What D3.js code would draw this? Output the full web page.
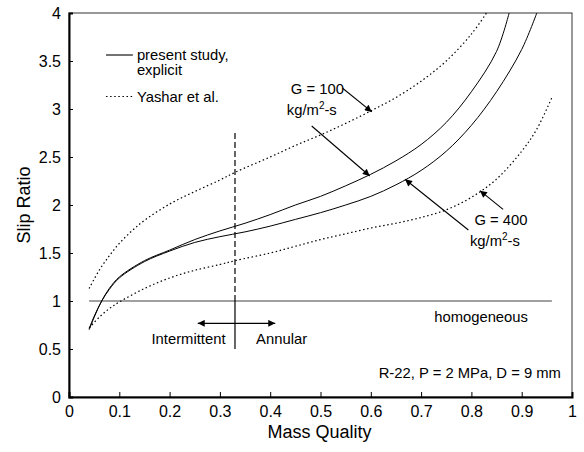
<!DOCTYPE html>
<html>
<head>
<meta charset="utf-8">
<script src="https://cdn.jsdelivr.net/npm/d3@7"></script>
<style>
  body { margin: 0; background: #fff; }
  svg { display: block; font-family: "Liberation Sans", Arial, sans-serif; }
  .tick-label { font-size: 16px; fill: #000; }
  .note { font-size: 14.8px; fill: #000; }
</style>
</head>
<body>
<div id="chart"></div>
<script>
// Mass quality (x) vs slip ratio (y)
const xTicks = [0, 0.1, 0.2, 0.3, 0.4, 0.5, 0.6, 0.7, 0.8, 0.9, 1];
const yTicks = [0, 0.5, 1, 1.5, 2, 2.5, 3, 3.5, 4];

// present study, explicit
const g100Explicit = [
  [0.04, 0.71], [0.05, 0.84], [0.065, 1.0], [0.08, 1.13], [0.1, 1.25], [0.15, 1.42],
  [0.2, 1.53], [0.25, 1.64], [0.3, 1.73], [0.35, 1.81], [0.4, 1.90], [0.45, 2.0],
  [0.5, 2.09], [0.55, 2.2], [0.6, 2.32], [0.65, 2.46], [0.7, 2.63], [0.75, 2.86],
  [0.8, 3.18], [0.85, 3.6], [0.875, 4.0]
];
const g400Explicit = [
  [0.04, 0.70], [0.05, 0.83], [0.065, 1.0], [0.08, 1.12], [0.1, 1.24], [0.15, 1.41],
  [0.2, 1.52], [0.25, 1.61], [0.3, 1.67], [0.35, 1.72], [0.4, 1.78], [0.45, 1.85],
  [0.5, 1.92], [0.55, 2.0], [0.6, 2.09], [0.65, 2.21], [0.7, 2.36], [0.75, 2.56],
  [0.8, 2.83], [0.85, 3.18], [0.9, 3.62], [0.93, 4.0]
];
// Yashar et al.
const g100Yashar = [
  [0.04, 1.13], [0.06, 1.32], [0.08, 1.47], [0.1, 1.6], [0.125, 1.73], [0.15, 1.84],
  [0.2, 2.01], [0.25, 2.14], [0.3, 2.26], [0.33, 2.34], [0.4, 2.5], [0.45, 2.62],
  [0.5, 2.73], [0.55, 2.85], [0.6, 2.98], [0.65, 3.12], [0.7, 3.29], [0.75, 3.5],
  [0.8, 3.78], [0.83, 4.0]
];
const g400Yashar = [
  [0.04, 0.72], [0.06, 0.83], [0.08, 0.92], [0.1, 0.99], [0.15, 1.13], [0.2, 1.24],
  [0.25, 1.32], [0.3, 1.38], [0.33, 1.42], [0.4, 1.50], [0.45, 1.57], [0.5, 1.64],
  [0.55, 1.70], [0.6, 1.76], [0.65, 1.81], [0.7, 1.87], [0.75, 1.95], [0.8, 2.08],
  [0.85, 2.27], [0.9, 2.56], [0.93, 2.79], [0.96, 3.12]
];
const homogeneous = [[0.04, 1], [0.96, 1]];

const transitionX = 0.33;

const width = 584, height = 452;
const margin = { top: 13, right: 12, bottom: 55, left: 69 };
const innerW = width - margin.left - margin.right;
const innerH = height - margin.top - margin.bottom;

const svg = d3.select('#chart').append('svg')
  .attr('width', width)
  .attr('height', height);

const defs = svg.append('defs');
defs.append('marker')
  .attr('id', 'arrow')
  .attr('viewBox', '0 0 10 10')
  .attr('refX', 10).attr('refY', 5)
  .attr('markerUnits', 'userSpaceOnUse')
  .attr('markerWidth', 8).attr('markerHeight', 7)
  .attr('orient', 'auto-start-reverse')
  .append('path')
  .attr('d', 'M0,0 L10,5 L0,10 Z')
  .attr('fill', '#000');

const g = svg.append('g').attr('transform', `translate(${margin.left},${margin.top})`);

const x = d3.scaleLinear().domain([0, 1]).range([0, innerW]);
const y = d3.scaleLinear().domain([0, 4]).range([innerH, 0]);

// frame
g.append('rect')
  .attr('width', innerW).attr('height', innerH)
  .attr('fill', 'none').attr('stroke', '#333').attr('stroke-width', 1);

// axes (ticks inward)
const xAxis = g.append('g')
  .attr('transform', `translate(0,${innerH})`)
  .call(d3.axisBottom(x).tickValues(xTicks).tickSize(-5).tickPadding(0).tickFormat(d3.format('')));
xAxis.select('.domain').attr('stroke', '#000').attr('stroke-width', 2);
xAxis.selectAll('.tick line').attr('stroke', '#000');
xAxis.selectAll('.tick text').attr('class', 'tick-label').attr('y', 20).attr('dy', 0);

const yAxis = g.append('g')
  .call(d3.axisLeft(y).tickValues(yTicks).tickSize(-4).tickPadding(0).tickFormat(d3.format('')));
yAxis.select('.domain').attr('stroke', '#000').attr('stroke-width', 2);
yAxis.selectAll('.tick line').attr('stroke', '#000');
yAxis.selectAll('.tick text').attr('class', 'tick-label').attr('x', -8).attr('dy', '0.36em');
svg.selectAll('.tick text').attr('font-family', null).attr('font-size', null);

// titles
svg.append('text')
  .attr('x', margin.left + innerW / 2 - 1).attr('y', 438)
  .attr('text-anchor', 'middle').attr('font-size', 18)
  .text('Mass Quality');
svg.append('text')
  .attr('transform', `translate(30,${margin.top + innerH / 2}) rotate(-90)`)
  .attr('text-anchor', 'middle').attr('font-size', 18)
  .text('Slip Ratio');

const line = d3.line().x(d => x(d[0])).y(d => y(d[1])).curve(d3.curveCatmullRom.alpha(0.5));

g.append('path').datum(homogeneous).attr('d', line)
  .attr('fill', 'none').attr('stroke', '#808080').attr('stroke-width', 1.6);

for (const s of [g100Explicit, g400Explicit]) {
  g.append('path').datum(s).attr('d', line)
    .attr('fill', 'none').attr('stroke', '#000').attr('stroke-width', 1);
}
for (const s of [g100Yashar, g400Yashar]) {
  g.append('path').datum(s).attr('d', line)
    .attr('fill', 'none').attr('stroke', '#000').attr('stroke-width', 1.2)
    .attr('stroke-dasharray', '1.5,2.6');
}

// flow regime transition
g.append('line')
  .attr('x1', x(transitionX)).attr('x2', x(transitionX))
  .attr('y1', y(2.75)).attr('y2', y(1.0))
  .attr('stroke', '#000').attr('stroke-width', 1.2).attr('stroke-dasharray', '6,3');
g.append('line')
  .attr('x1', x(transitionX)).attr('x2', x(transitionX))
  .attr('y1', y(1.0)).attr('y2', y(0.5))
  .attr('stroke', '#000').attr('stroke-width', 1.2);
g.append('line')
  .attr('x1', x(0.256)).attr('x2', x(0.41))
  .attr('y1', y(0.767)).attr('y2', y(0.767))
  .attr('stroke', '#000').attr('stroke-width', 1.2)
  .attr('marker-start', 'url(#arrow)').attr('marker-end', 'url(#arrow)');

// annotation arrows [from, to]
const arrows = [
  [[0.544, 3.216], [0.602, 2.97]],
  [[0.4825, 2.823], [0.598, 2.302]],
  [[0.863, 1.955], [0.817, 2.149]],
  [[0.794, 1.74], [0.668, 2.268]]
];
g.selectAll('.ann-arrow').data(arrows).join('line')
  .attr('class', 'ann-arrow')
  .attr('x1', d => x(d[0][0])).attr('y1', d => y(d[0][1]))
  .attr('x2', d => x(d[1][0])).attr('y2', d => y(d[1][1]))
  .attr('stroke', '#000').attr('stroke-width', 1.1)
  .attr('marker-end', 'url(#arrow)');

function note(xv, yv, txt, anchor) {
  return g.append('text').attr('class', 'note')
    .attr('x', x(xv)).attr('y', y(yv))
    .attr('text-anchor', anchor || 'start')
    .text(txt);
}
function fluxUnit(xv, yv) {
  const t = g.append('text').attr('class', 'note').attr('x', x(xv)).attr('y', y(yv));
  t.append('tspan').text('kg/m');
  t.append('tspan').attr('font-size', 10).attr('dy', -6).text('2');
  t.append('tspan').attr('dy', 6).text('-s');
}

note(0.441, 3.156, 'G = 100');
fluxUnit(0.433, 2.94);
note(0.806, 1.79, 'G = 400');
fluxUnit(0.797, 1.573);
note(0.164, 0.552, 'Intermittent');
note(0.372, 0.552, 'Annular');
note(0.726, 0.78, 'homogeneous');
note(0.978, 0.198, 'R-22, P = 2 MPa, D = 9 mm', 'end');

// legend
const legend = [
  { label: ['present study,', 'explicit'], dash: null, yv: 3.5625 },
  { label: ['Yashar et al.'], dash: '1.5,2.6', yv: 3.13 }
];
legend.forEach(l => {
  g.append('line')
    .attr('x1', x(0.0736)).attr('x2', x(0.127))
    .attr('y1', y(l.yv)).attr('y2', y(l.yv))
    .attr('stroke', '#000').attr('stroke-width', 1.1)
    .attr('stroke-dasharray', l.dash);
  const t = g.append('text').attr('class', 'note')
    .attr('x', x(0.135)).attr('y', y(l.yv) + 5);
  l.label.forEach((s, i) => {
    t.append('tspan').attr('x', x(0.135)).attr('dy', i === 0 ? 0 : 14.5).text(s);
  });
});
</script>
</body>
</html>
